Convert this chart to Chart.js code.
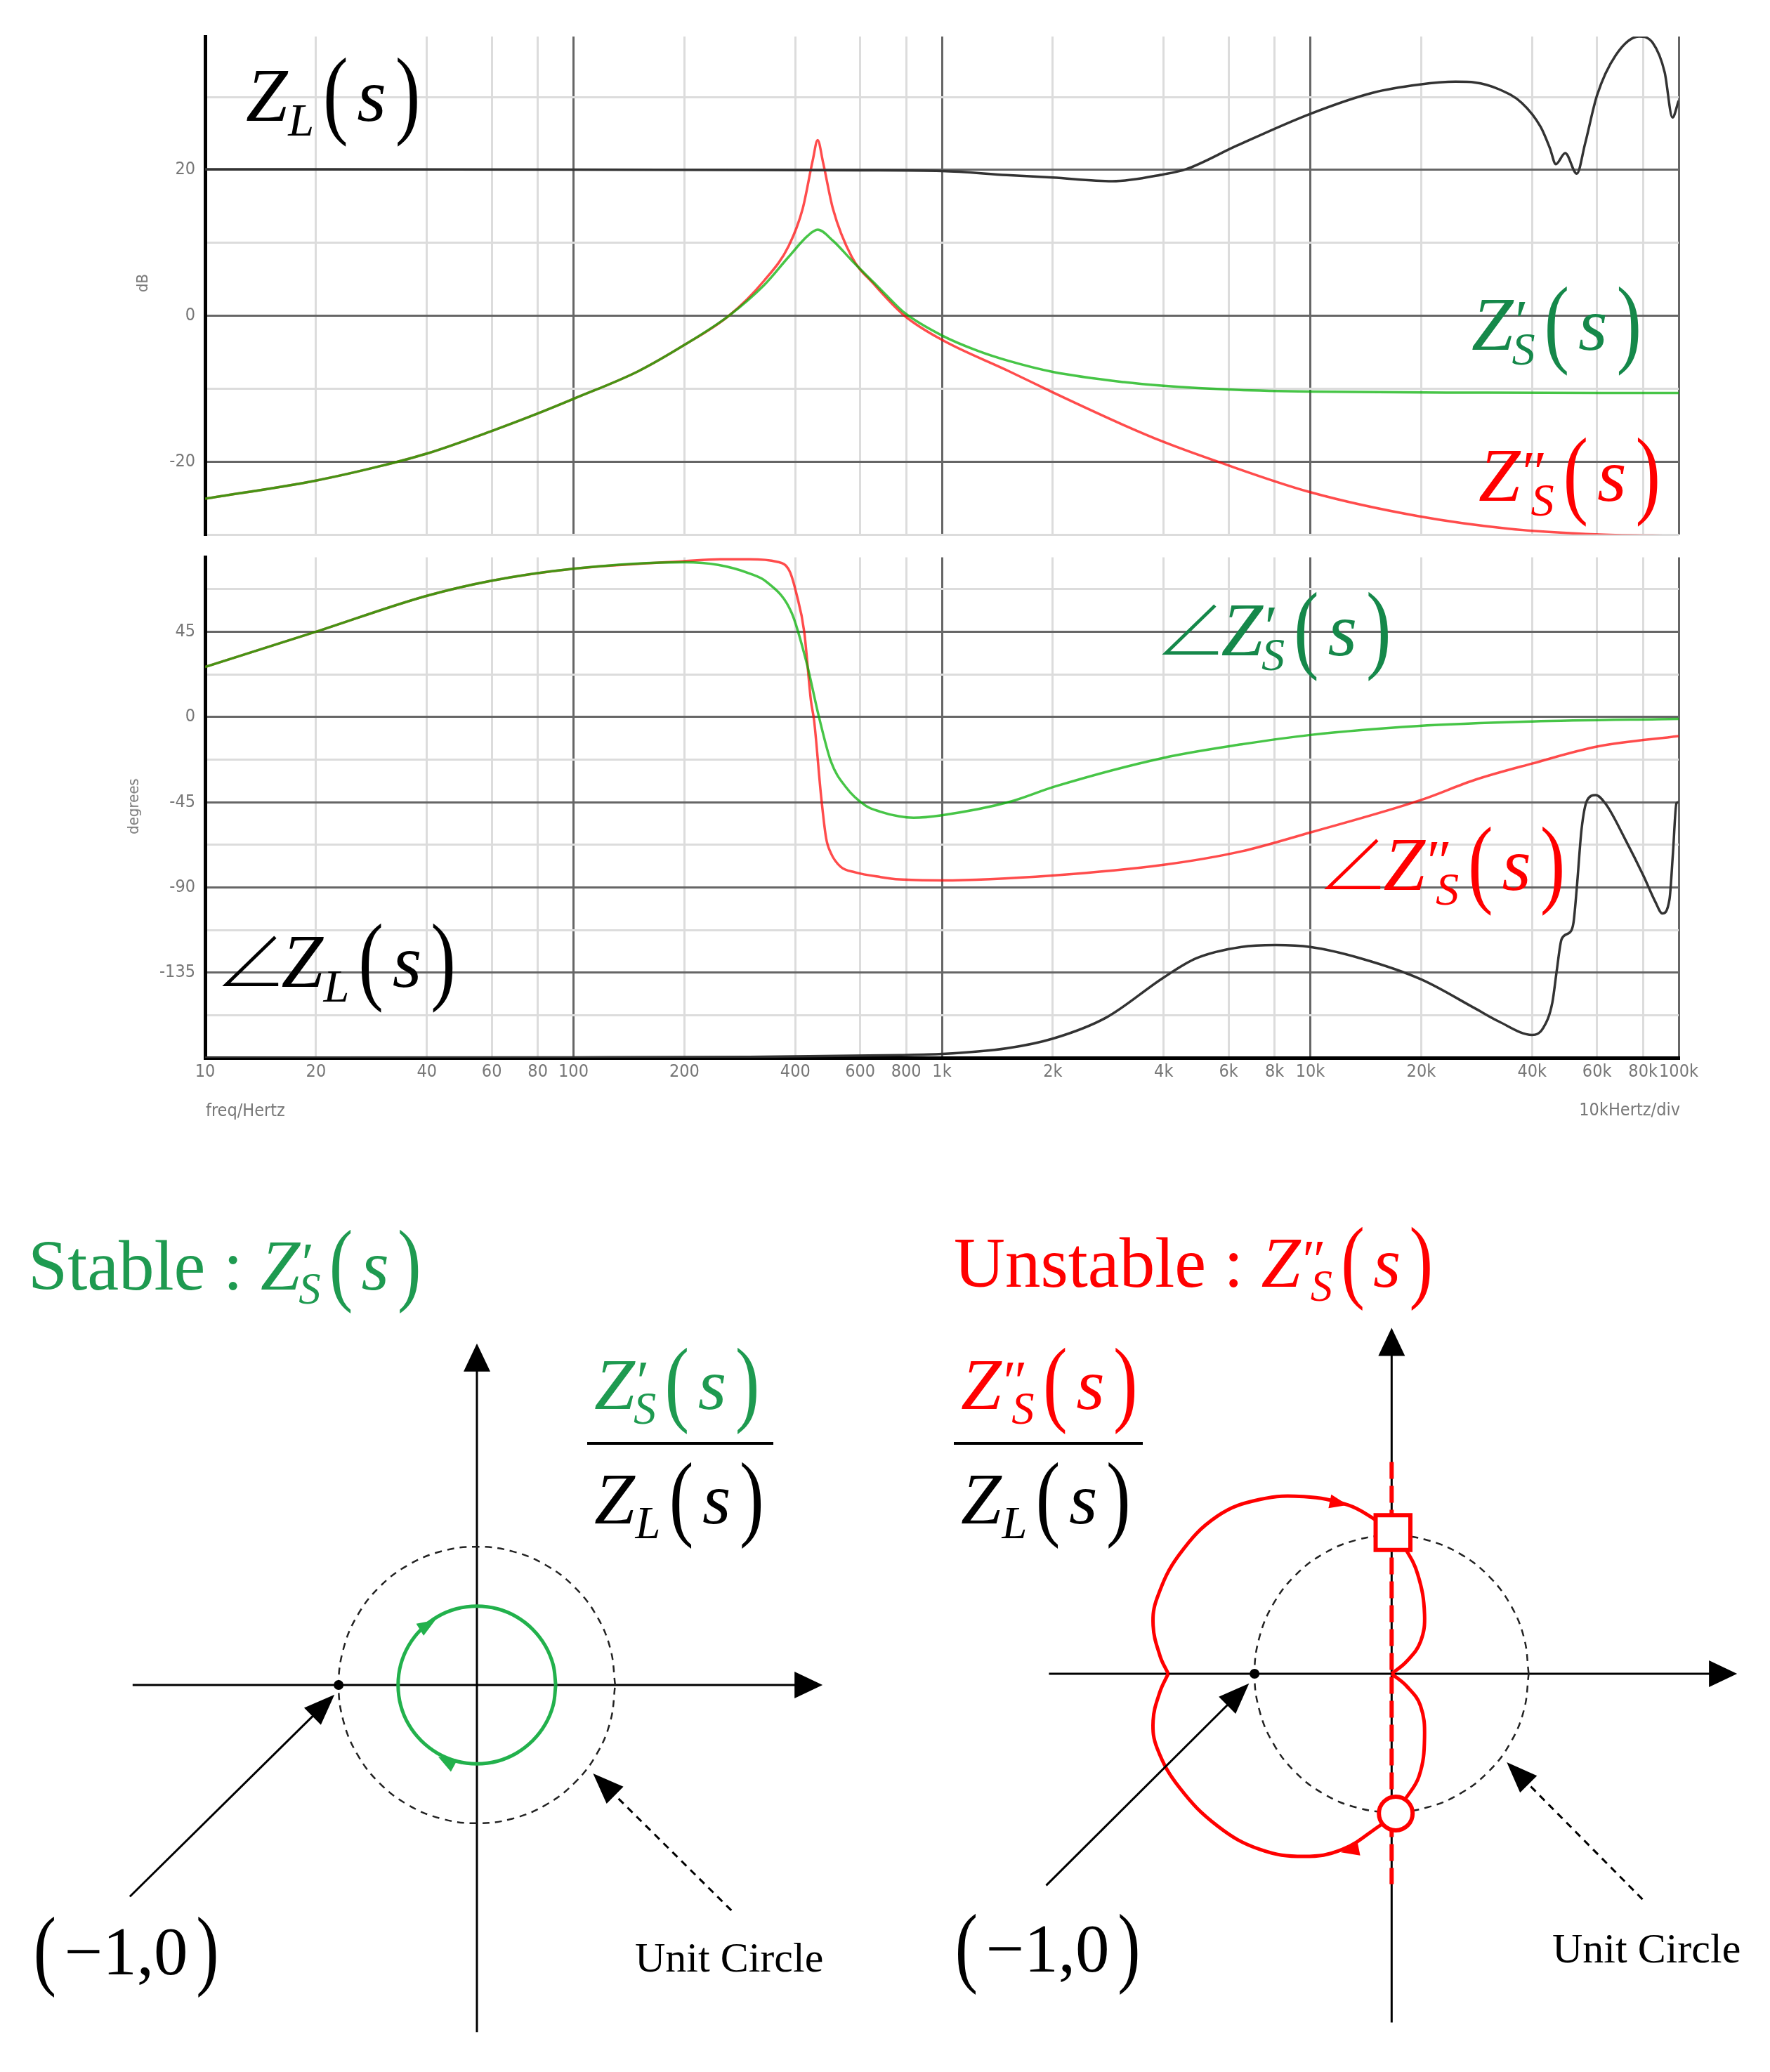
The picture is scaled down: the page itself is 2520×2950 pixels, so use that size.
<!DOCTYPE html>
<html>
<head>
<meta charset="utf-8">
<script src="https://cdn.jsdelivr.net/npm/chart.js@4.4.1/dist/chart.umd.min.js"></script>
<style>
  html, body { margin: 0; padding: 0; background: #fff; }
  body { width: 2520px; height: 2950px; position: relative; overflow: hidden; }
  .box { position: absolute; }
  .box canvas { display: block; }
  .m { position: absolute; font-family: "Liberation Serif", "Times New Roman", serif; white-space: nowrap; line-height: 1; }
  .m i { font-style: italic; }
  .m .sb { font-style: italic; font-size: 0.62em; position: relative; top: 0.32em; margin-left: 0.01em; }
  .m .pr { font-style: normal; font-size: 0.8em; position: relative; top: -0.14em; margin-left: 0.03em; margin-right: -0.28em; }
  .m .pa { display: inline-block; font-style: normal; transform: scaleY(1.3); transform-origin: 50% 62%; margin: 0 0.12em; }
  .m .an { display: inline-block; width: 0.74em; height: 0.68em; margin-right: 0.04em; vertical-align: 0; }
  .m .an svg { display: block; width: 100%; height: 100%; overflow: visible; }
  .ax { position: absolute; font-family: "Liberation Sans Narrow", "DejaVu Sans Condensed", "Liberation Sans", sans-serif; color: #777; font-size: 25px; white-space: nowrap; line-height: 1; }
  .rot { transform: translate(-50%, -50%) rotate(-90deg); }
  .rule { position: absolute; height: 4px; background: #000; }
</style>
</head>
<body>
<div class="box" style="left:0;top:0;width:2520px;height:790px"><canvas id="magChart"></canvas></div>
<div class="box" style="left:0;top:760px;width:2520px;height:860px"><canvas id="phaseChart"></canvas></div>
<div class="box" style="left:0;top:1700px;width:1260px;height:1250px"><canvas id="stableChart"></canvas></div>
<div class="box" style="left:1300px;top:1700px;width:1220px;height:1250px"><canvas id="unstableChart"></canvas></div>

<script>
/* ------------------------------------------------------------
   Données – Bode (fréquence en Hz)
------------------------------------------------------------ */
const freqTicks  = [10, 20, 40, 60, 80, 100, 200, 400, 600, 800, 1000, 2000, 4000, 6000, 8000,
                    10000, 20000, 40000, 60000, 80000, 100000];
const freqLabels = ['10', '20', '40', '60', '80', '100', '200', '400', '600', '800', '1k', '2k', '4k', '6k', '8k',
                    '10k', '20k', '40k', '60k', '80k', '100k'];
const decades = [10, 100, 1000, 10000, 100000];

// |Z_L| (dB)
const zlMagF  = [10, 100, 300, 600, 1000, 1500, 2000, 2900, 4000, 4600, 6300, 10000, 14800, 19700, 24800,
                 28000, 32400, 37500, 42200, 44700, 46400, 49200, 52900, 55700, 60000, 67400, 78000, 85100,
                 91600, 96200, 100000];
const zlMagDb = [20.1, 20.05, 20.0, 19.95, 19.85, 19.3, 18.95, 18.45, 19.4, 20.1, 23.3, 27.7, 30.6, 31.7, 32.1,
                 32.0, 31.1, 29.2, 25.9, 23.0, 20.8, 22.3, 19.5, 23.6, 30.2, 35.7, 38.3, 37.4,
                 33.4, 27.2, 29.5];

// |Z'_S| stable (dB)
const zs1MagF  = [10, 20, 30, 40, 60, 80, 100, 150, 200, 264, 329, 384, 433, 460, 506, 569, 652, 720, 792,
                  1000, 1250, 1520, 2000, 3120, 4000, 6300, 10000, 30000, 100000];
const zs1MagDb = [-25.1, -22.6, -20.6, -18.9, -15.8, -13.4, -11.4, -7.6, -4.0, 0, 4.2, 8.1, 11.0,
                  11.8, 10.3, 7.6, 4.6, 2.4, 0.4, -2.7, -4.8, -6.2, -7.7, -9.1, -9.6, -10.15, -10.4, -10.55, -10.6];

// |Z''_S| unstable (dB)
const zs2MagF  = [10, 20, 30, 40, 60, 80, 100, 150, 200, 264, 329, 384, 419, 446, 460, 476, 506, 569,
                  652, 792, 1000, 1520, 2000, 3120, 4000, 5600, 10000, 19700, 34500, 61000, 100000];
const zs2MagDb = [-25.1, -22.6, -20.6, -18.9, -15.8, -13.4, -11.4, -7.6, -4.0, 0, 4.8, 9.6, 14.7,
                  21.3, 24.1, 21.0, 14.7, 8.1, 4.4, 0, -3.3, -7.6, -10.5, -15.0, -17.3, -20.0, -24.2, -27.5,
                  -29.2, -30.0, -30.2];

// ∠Z_L (deg)
const zlPhF   = [10, 100, 300, 766, 1000, 1500, 2000, 2790, 4000, 4900, 6500, 8050, 10000, 13700, 20000, 28000,
                 32400, 40000, 42800, 45400, 46700, 48100, 50700, 51800, 52900, 54500, 56500, 59500, 63500,
                 71400, 80300, 86400, 90300, 94400, 96500, 98600, 100000];
const zlPhDeg = [-180, -179.8, -179.5, -178.6, -178, -175, -169.9, -158.8, -137.6, -127.5, -121.5, -120.5,
                 -121.5, -127.5, -138.6, -153.9, -160.7, -167.9, -164.5, -150.8, -133.5, -117.4, -113.7,
                 -108.8, -90.2, -59.2, -43.8, -41.3, -46.2, -64.2, -84.0, -97.6, -103.8, -96.4, -71.6, -45.6, -45];

// ∠Z'_S (deg)
const zs1PhF   = [10, 20, 40, 60, 100, 200, 247, 300, 335, 391, 429, 463, 500, 548, 620, 680, 766, 838, 1000,
                  1530, 2030, 4000, 6500, 10000, 19500, 40000, 100000];
const zs1PhDeg = [26.4, 45, 64, 72, 78.3, 81.7, 80.3, 75.8, 71.2, 55, 28.9, 0.6, -23.6, -36.9, -46.8, -50.0,
                  -52.5, -53.2, -51.9, -44.8, -36.7, -21.6, -14.5, -9.5, -4.8, -2.4, -1.0];

// ∠Z''_S (deg)
const zs2PhF   = [10, 20, 40, 60, 100, 200, 250, 300, 356, 386, 403, 423, 441, 450, 470, 485, 500, 531, 583,
                  679, 766, 1000, 2000, 4000, 6500, 10000, 20000, 28000, 40000, 60600, 100000];
const zs2PhDeg = [26.4, 45, 64, 72, 78.3, 82.3, 83.3, 83.3, 82, 77, 65, 45, 8.7, -2, -41.8, -64, -72, -79.1,
                  -82.1, -84.5, -85.8, -86.3, -83.7, -78.1, -71, -61, -43.8, -33.2, -24.6, -15.5, -10.1];

/* ------------------------------------------------------------
   Données – Nyquist (plan complexe, unité = 1)
------------------------------------------------------------ */
const unitCircleX = [1, 0.966, 0.866, 0.707, 0.5, 0.259, 0, -0.259, -0.5, -0.707, -0.866, -0.966, -1,
                     -0.966, -0.866, -0.707, -0.5, -0.259, 0, 0.259, 0.5, 0.707, 0.866, 0.966, 1];
const unitCircleY = [0, 0.259, 0.5, 0.707, 0.866, 0.966, 1, 0.966, 0.866, 0.707, 0.5, 0.259, 0,
                     -0.259, -0.5, -0.707, -0.866, -0.966, -1, -0.966, -0.866, -0.707, -0.5, -0.259, 0];

const stableX = [0.57, 0.551, 0.494, 0.403, 0.285, 0.148, 0, -0.148, -0.285, -0.403, -0.494, -0.551, -0.57,
                 -0.551, -0.494, -0.403, -0.285, -0.148, 0, 0.148, 0.285, 0.403, 0.494, 0.551, 0.57];
const stableY = [0, 0.148, 0.285, 0.403, 0.494, 0.551, 0.57, 0.551, 0.494, 0.403, 0.285, 0.148, 0,
                 -0.148, -0.285, -0.403, -0.494, -0.551, -0.57, -0.551, -0.494, -0.403, -0.285, -0.148, 0];

// lieu instable, en quatre morceaux (les pointes restent nettes)
const unstA = [[0.01, 1.02], [0.09, 0.92], [0.19, 0.72], [0.24, 0.43], [0.21, 0.23], [0.11, 0.09], [0, 0]];
const unstB = [[0, 0], [0.11, -0.09], [0.21, -0.23], [0.24, -0.46], [0.20, -0.74], [0.09, -0.92], [0.03, -1.01]];
const unstC = [[0.03, -1.01], [-0.09, -1.10], [-0.36, -1.27], [-0.64, -1.32], [-0.96, -1.27], [-1.27, -1.10],
               [-1.55, -0.82], [-1.71, -0.54], [-1.74, -0.34], [-1.69, -0.13], [-1.63, 0]];
const unstD = [[-1.63, 0], [-1.69, 0.13], [-1.74, 0.35], [-1.71, 0.55], [-1.55, 0.86], [-1.27, 1.14],
               [-0.96, 1.26], [-0.64, 1.28], [-0.32, 1.22], [-0.13, 1.12], [0.01, 1.02]];
const imagDash = [[0, 1.53], [0, -1.52]];
const squarePt = [0.01, 1.02];
const circlePt = [0.03, -1.01];
const minusOne = [-1, 0];

// flèches : [xDépart, yDépart, xArrivée, yArrivée]
const stableAxes   = [[-2.49, 0, 2.50, 0], [0, -2.51, 0, 2.47]];
const unstableAxes = [[-2.50, 0, 2.52, 0], [0, -2.52, 0, 2.50]];
const stablePointer   = [-2.51, -1.53, -1.03, -0.07];
const stableCircleTag = [1.84, -1.63, 0.84, -0.64];
const unstPointer     = [-2.52, -1.53, -1.04, -0.07];
const unstCircleTag   = [1.83, -1.63, 0.84, -0.64];
const stableHeads = [[-0.342, 0.444, -0.30, 0.47], [-0.236, -0.544, -0.28, -0.52]];
const unstHeads   = [[-0.37, 1.23, -0.32, 1.22], [-0.32, -1.28, -0.37, -1.29]];

/* ------------------------------------------------------------
   Utilitaires
------------------------------------------------------------ */
const pts   = (xs, ys) => xs.map((x, i) => ({ x, y: ys[i] }));
const pairs = arr => arr.map(([x, y]) => ({ x, y }));

const MAJOR = '#666';
const MINOR = '#dcdcdc';
const TICK_FONT = { family: '"Liberation Sans Narrow", "DejaVu Sans Condensed", "Liberation Sans", sans-serif', size: 25 };

Chart.defaults.font.family = TICK_FONT.family;

const bodeLine = color => ({
    borderColor: color, borderWidth: 3.5, pointRadius: 0, fill: false, cubicInterpolationMode: 'monotone'
});

function freqAxis(showLabels, border) {
    return {
        type: 'logarithmic', min: 10, max: 100000,
        afterBuildTicks: s => { s.ticks = freqTicks.map(v => ({ value: v })); },
        afterFit: s => { s.height = showLabels ? 114 : 0; },
        ticks: {
            display: showLabels, autoSkip: false, maxRotation: 0, padding: 5, color: '#777', font: TICK_FONT,
            callback: (v, i) => freqLabels[i]
        },
        grid: {
            color: c => (c.tick && decades.includes(c.tick.value)) ? MAJOR : MINOR,
            lineWidth: 3, drawTicks: false
        },
        border: border
    };
}

/* ------------------------------------------------------------
   Plugin – flèches dessinées dans le repère des échelles
------------------------------------------------------------ */
function drawArrow(chart, seg, st) {
    const { ctx, scales: { x, y } } = chart;
    const x1 = x.getPixelForValue(seg[0]), y1 = y.getPixelForValue(seg[1]);
    const x2 = x.getPixelForValue(seg[2]), y2 = y.getPixelForValue(seg[3]);
    const a = Math.atan2(y2 - y1, x2 - x1);
    ctx.save();
    ctx.strokeStyle = st.color;
    ctx.fillStyle = st.color;
    ctx.lineWidth = st.width || 3;
    if (st.line !== false) {
        ctx.setLineDash(st.dash || []);
        ctx.beginPath();
        ctx.moveTo(x1, y1);
        ctx.lineTo(x2 - Math.cos(a) * st.head[0] * 0.7, y2 - Math.sin(a) * st.head[0] * 0.7);
        ctx.stroke();
        ctx.setLineDash([]);
    }
    ctx.translate(x2, y2);
    ctx.rotate(a);
    ctx.beginPath();
    ctx.moveTo(0, 0);
    ctx.lineTo(-st.head[0], st.head[1] / 2);
    ctx.lineTo(-st.head[0], -st.head[1] / 2);
    ctx.closePath();
    ctx.fill();
    ctx.restore();
}

const arrowPlugin = {
    id: 'arrows',
    beforeDatasetsDraw(chart, args, opts) {
        (opts.under || []).forEach(a => drawArrow(chart, a.seg, a));
    },
    afterDatasetsDraw(chart, args, opts) {
        (opts.over || []).forEach(a => drawArrow(chart, a.seg, a));
    }
};

/* ------------------------------------------------------------
   1.  Module (dB)
------------------------------------------------------------ */
new Chart(document.getElementById('magChart'), {
    type: 'line',
    data: {
        datasets: [
            { data: pts(zlMagF, zlMagDb), ...bodeLine('#333') },
            { data: pts(zs1MagF, zs1MagDb), ...bodeLine('rgba(0,175,0,0.72)') },
            { data: pts(zs2MagF, zs2MagDb), ...bodeLine('rgba(255,0,0,0.7)') }
        ]
    },
    options: {
        responsive: true, maintainAspectRatio: false, animation: false,
        layout: { padding: { top: 52, right: 130, bottom: 29, left: 0 } },
        plugins: { legend: { display: false }, tooltip: { enabled: false } },
        scales: {
            x: freqAxis(false, { display: false }),
            y: {
                min: -30, max: 38.3,
                afterFit: s => { s.width = 292; },
                ticks: {
                    stepSize: 10, includeBounds: false, padding: 14, color: '#777', font: TICK_FONT,
                    callback: v => (v % 20 === 0 ? String(v) : '')
                },
                grid: { color: c => (c.tick && c.tick.value % 20 === 0) ? MAJOR : MINOR, lineWidth: 3, drawTicks: false },
                border: { color: '#000', width: 5 }
            }
        }
    }
});

/* ------------------------------------------------------------
   2.  Phase (degrés)
------------------------------------------------------------ */
new Chart(document.getElementById('phaseChart'), {
    type: 'line',
    data: {
        datasets: [
            { data: pts(zlPhF, zlPhDeg), ...bodeLine('#333') },
            { data: pts(zs1PhF, zs1PhDeg), ...bodeLine('rgba(0,175,0,0.72)') },
            { data: pts(zs2PhF, zs2PhDeg), ...bodeLine('rgba(255,0,0,0.7)') }
        ]
    },
    options: {
        responsive: true, maintainAspectRatio: false, animation: false,
        layout: { padding: { top: 33.5, right: 130, bottom: 0, left: 0 } },
        plugins: { legend: { display: false }, tooltip: { enabled: false } },
        scales: {
            x: freqAxis(true, { color: '#000', width: 5 }),
            y: {
                min: -180, max: 84.3,
                afterFit: s => { s.width = 292; },
                ticks: {
                    stepSize: 22.5, includeBounds: false, padding: 14, color: '#777', font: TICK_FONT,
                    callback: v => (v % 45 === 0 && v > -180 ? String(v) : '')
                },
                grid: { color: c => (c.tick && c.tick.value % 45 === 0) ? MAJOR : MINOR, lineWidth: 3, drawTicks: false },
                border: { color: '#000', width: 5 }
            }
        }
    }
});

/* ------------------------------------------------------------
   3.  Nyquist – stable / instable
------------------------------------------------------------ */
const planeScales = {
    x: { type: 'linear', min: -2.55, max: 2.55, display: false },
    y: { type: 'linear', min: -2.55, max: 2.55, display: false }
};
const AXIS = { color: '#000', width: 3, head: [40, 38] };
const TAG  = { color: '#000', width: 3, head: [44, 34] };

new Chart(document.getElementById('stableChart'), {
    type: 'scatter',
    data: {
        datasets: [
            { data: [{ x: minusOne[0], y: minusOne[1] }], pointRadius: 7, backgroundColor: '#000', borderWidth: 0 },
            { data: pts(stableX, stableY), showLine: true, borderColor: '#22b14c', borderWidth: 5, pointRadius: 0, tension: 0.4 },
            { data: pts(unitCircleX, unitCircleY), showLine: true, borderColor: '#222', borderWidth: 2.5,
              borderDash: [10, 8], pointRadius: 0, tension: 0.4 }
        ]
    },
    options: {
        responsive: true, maintainAspectRatio: false, animation: false,
        layout: { padding: { top: 197, right: 79, bottom: 49, left: 177 } },
        scales: planeScales,
        plugins: {
            legend: { display: false }, tooltip: { enabled: false },
            arrows: {
                under: stableAxes.map(seg => ({ seg, ...AXIS })),
                over: [
                    { seg: stablePointer, ...TAG },
                    { seg: stableCircleTag, ...TAG, dash: [10, 8] },
                    ...stableHeads.map(seg => ({ seg, color: '#22b14c', line: false, head: [26, 20] }))
                ]
            }
        }
    },
    plugins: [arrowPlugin]
});

const RED = '#f00';
const redSeg = arr => ({ data: pairs(arr), showLine: true, borderColor: RED, borderWidth: 5, pointRadius: 0, tension: 0.4 });

new Chart(document.getElementById('unstableChart'), {
    type: 'scatter',
    data: {
        datasets: [
            { data: [{ x: squarePt[0], y: squarePt[1] }], pointStyle: 'rect', pointRadius: 35,
              backgroundColor: '#fff', borderColor: RED, borderWidth: 6 },
            { data: [{ x: circlePt[0], y: circlePt[1] }], pointStyle: 'circle', pointRadius: 24,
              backgroundColor: '#fff', borderColor: RED, borderWidth: 6 },
            { data: [{ x: minusOne[0], y: minusOne[1] }], pointRadius: 7, backgroundColor: '#000', borderWidth: 0 },
            { data: pairs(imagDash), showLine: true, borderColor: RED, borderWidth: 6, borderDash: [24, 10], pointRadius: 0 },
            redSeg(unstA), redSeg(unstB), redSeg(unstC), redSeg(unstD),
            { data: pts(unitCircleX, unitCircleY), showLine: true, borderColor: '#222', borderWidth: 2.5,
              borderDash: [10, 8], pointRadius: 0, tension: 0.4 }
        ]
    },
    options: {
        responsive: true, maintainAspectRatio: false, animation: false,
        layout: { padding: { top: 180.65, right: 31.65, bottom: 64.65, left: 183.65 } },
        scales: planeScales,
        plugins: {
            legend: { display: false }, tooltip: { enabled: false },
            arrows: {
                under: unstableAxes.map(seg => ({ seg, ...AXIS })),
                over: [
                    { seg: unstPointer, ...TAG },
                    { seg: unstCircleTag, ...TAG, dash: [10, 8] },
                    ...unstHeads.map(seg => ({ seg, color: RED, line: false, head: [26, 20] }))
                ]
            }
        }
    },
    plugins: [arrowPlugin]
});

/* ------------------------------------------------------------
   4.  Textes (formules)
------------------------------------------------------------ */
const zL  = '<i>Z</i><span class="sb">L</span>';
const zS1 = '<i>Z</i><span class="pr">′</span><span class="sb">S</span>';
const zS2 = '<i>Z</i><span class="pr">″</span><span class="sb">S</span>';
const ofS = '<span class="pa">(</span><i>s</i><span class="pa">)</span>';
const ang = '<span class="an"><svg viewBox="0 0 74 68" preserveAspectRatio="none">' +
            '<path d="M70 2 L5 65 L74 65" fill="none" stroke="currentColor" stroke-width="4.5"/></svg></span>';
const GREEN_TXT = '#15884a';
const GREEN_TTL = '#1e9a50';

const texts = [
    { html: zL + ofS,        left: 350,  top: 83,   size: 107, color: '#000' },
    { html: zS1 + ofS,       left: 2095, top: 409,  size: 107, color: GREEN_TXT },
    { html: zS2 + ofS,       left: 2105, top: 624,  size: 107, color: RED },
    { html: ang + zS1 + ofS, left: 1655, top: 844,  size: 107, color: GREEN_TXT },
    { html: ang + zS2 + ofS, left: 1886, top: 1178, size: 107, color: RED },
    { html: ang + zL + ofS,  left: 317,  top: 1316, size: 107, color: '#000' },

    { html: 'Stable : ' + zS1 + ofS,   left: 40,   top: 1752, size: 101, color: GREEN_TTL },
    { html: 'Unstable : ' + zS2 + ofS, left: 1358, top: 1748, size: 101, color: RED },
    { html: zS1 + ofS, left: 846,  top: 1919, size: 104, color: GREEN_TTL },
    { html: zL + ofS,  left: 846,  top: 2082, size: 104, color: '#000' },
    { html: zS2 + ofS, left: 1368, top: 1919, size: 104, color: RED },
    { html: zL + ofS,  left: 1368, top: 2082, size: 104, color: '#000' },
    { html: '<span class="pa">(</span>−1,0<span class="pa">)</span>', left: 36,   top: 2730, size: 97, color: '#000' },
    { html: '<span class="pa">(</span>−1,0<span class="pa">)</span>', left: 1348, top: 2726, size: 97, color: '#000' },
    { html: 'Unit Circle', left: 904,  top: 2757, size: 60, color: '#000' },
    { html: 'Unit Circle', left: 2210, top: 2744, size: 60, color: '#000' }
];
texts.forEach(t => {
    const d = document.createElement('div');
    d.className = 'm';
    d.innerHTML = t.html;
    Object.assign(d.style, { left: t.left + 'px', top: t.top + 'px', fontSize: t.size + 'px', color: t.color });
    document.body.appendChild(d);
});

// traits de fraction
[[836, 2053, 265], [1358, 2053, 269]].forEach(([l, t, w]) => {
    const r = document.createElement('div');
    r.className = 'rule';
    Object.assign(r.style, { left: l + 'px', top: t + 'px', width: w + 'px' });
    document.body.appendChild(r);
});

// légendes d'axes
const axisTexts = [
    { txt: 'dB',      style: { left: '203px', top: '403px', fontSize: '22px' }, rot: true },
    { txt: 'degrees', style: { left: '190px', top: '1148px', fontSize: '22px' }, rot: true },
    { txt: 'freq/Hertz',   style: { left: '293px', top: '1568px' } },
    { txt: '10kHertz/div', style: { right: '128px', top: '1567px' } }
];
axisTexts.forEach(a => {
    const d = document.createElement('div');
    d.className = 'ax' + (a.rot ? ' rot' : '');
    d.textContent = a.txt;
    Object.assign(d.style, a.style);
    document.body.appendChild(d);
});
</script>
</body>
</html>
